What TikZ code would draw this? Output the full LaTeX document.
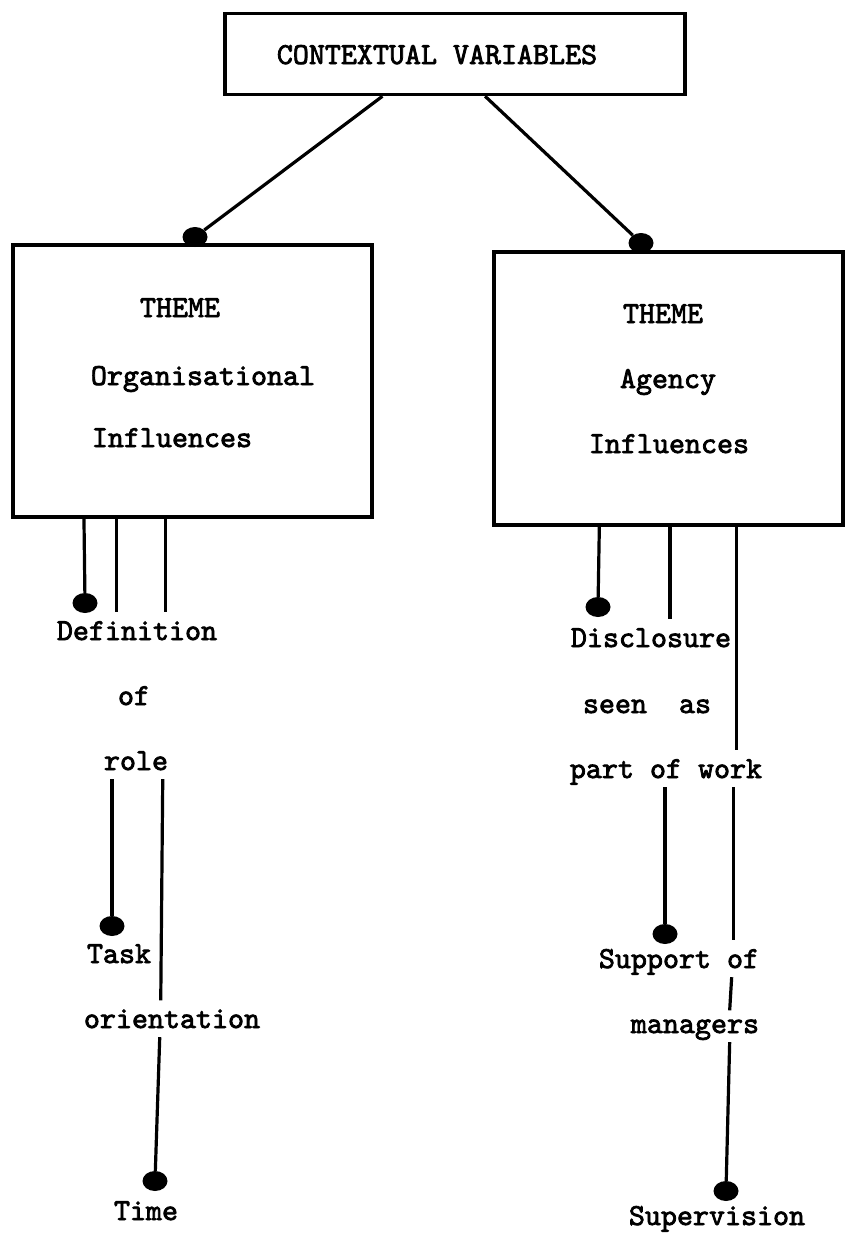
\documentclass[tikz,border=0pt]{standalone}
\usepackage{fontspec}
\newfontfamily\typewriter{lmmono10-regular.otf}[FakeBold=2.5]
\usetikzlibrary{shapes.geometric,calc}
\tikzset{
  panel/.style={draw, rectangle, line width=3.5pt, inner sep=0pt},
  txt/.style={anchor=base, font=\typewriter\fontsize{30.5}{36}\selectfont,
    inner xsep=2pt, inner ysep=9pt, text depth=0pt},
  blob/.style={ellipse, fill, minimum width=25pt, minimum height=20pt, inner sep=0pt},
  wire/.style={line width=3.2pt},
}
\begin{document}
\begin{tikzpicture}[x=1pt, y=-1pt]
\useasboundingbox (0,0) rectangle (845,1235);

% frames
\node[panel, minimum width=460pt, minimum height=81pt] (ctx) at (455,54) {};
\node[panel, minimum width=359pt, minimum height=272pt] (org) at (192.5,381) {};
\node[panel, minimum width=349pt, minimum height=273pt] (agc) at (668.5,388.5) {};

% texts
\node[txt] (ctxt) at (437,64) {CONTEXTUAL VARIABLES};
\node[txt] (orgth) at (180,317) {THEME};
\node[txt] (orgn) at (203,385) {Organisational};
\node[txt] (orgi) at (172,447) {Influences};
\node[txt] (agth) at (663,323) {THEME};
\node[txt] (agn) at (668,388) {Agency};
\node[txt] (agi) at (669,453) {Influences};
\node[txt] (defn) at (137,640) {Definition};
\node[txt] (of) at (134,705) {of};
\node[txt] (role) at (136,770) {role};
\node[txt] (task) at (119,963) {Task};
\node[txt] (orient) at (172,1028) {orientation};
\node[txt] (time) at (146,1220) {Time};
\node[txt] (disc) at (651,647) {Disclosure};
\node[txt] (seen) at (647,713) {seen\ \ as};
\node[txt] (work) at (666,778) {part of work};
\node[txt] (supp) at (679,968) {Support of};
\node[txt] (mgr) at (695,1033) {managers};
\node[txt] (superv) at (717,1225) {Supervision};

% dots
\node[blob] (dtl) at (195,237) {};
\node[blob] (dtr) at (641,243) {};
\node[blob] (ddef) at (85,603) {};
\node[blob] (dtask) at (112,926) {};
\node[blob] (dtime) at (155,1181) {};
\node[blob] (ddisc) at (598,607) {};
\node[blob] (dsupp) at (665,934) {};
\node[blob] (dsuperv) at (726,1191) {};

% attachment points on the frames
\coordinate (c1) at ($(ctx.south west)!0.3435!(ctx.south east)$);
\coordinate (c2) at ($(ctx.south west)!0.565!(ctx.south east)$);
\coordinate (o1) at ($(org.south west)!0.2006!(org.south east)$);
\coordinate (o2) at ($(org.south west)!0.2897!(org.south east)$);
\coordinate (o3) at ($(org.south west)!0.4262!(org.south east)$);
\coordinate (a1) at ($(agc.south west)!0.3038!(agc.south east)$);
\coordinate (a2) at ($(agc.south west)!0.5043!(agc.south east)$);
\coordinate (a3) at ($(agc.south west)!0.6934!(agc.south east)$);

% connectors
\draw[wire] (c1) -- (dtl);
\draw[wire] (c2) -- (dtr);

\draw[wire] (o1) -- (ddef);
\draw[wire] (o2) -- (o2 |- defn.north);
\draw[wire] (o3) -- (o3 |- defn.north);
\draw[wire] (dtask |- role.south) -- (dtask);
\draw[wire] ($(o3 |- role.south)+(-3,0)$) -- ($(o3 |- orient.north)+(-5,0)$);
\draw[wire] ($(o3 |- orient.south)+(-6,0)$) -- (dtime);

\draw[wire] (a1) -- (ddisc);
\draw[wire] (a2) -- (a2 |- disc.north);
\draw[wire] (dsupp |- work.south) -- (dsupp);
\draw[wire] (a3) -- (a3 |- work.north);
\draw[wire] ($(a3 |- work.south)+(-3,0)$) -- ($(a3 |- supp.north)+(-3,0)$);
\draw[wire] ($(a3 |- supp.south)+(-5,0)$) -- ($(a3 |- mgr.north)+(-7,0)$);
\draw[wire] ($(a3 |- mgr.south)+(-7,0)$) -- (dsuperv);
\end{tikzpicture}
\end{document}
